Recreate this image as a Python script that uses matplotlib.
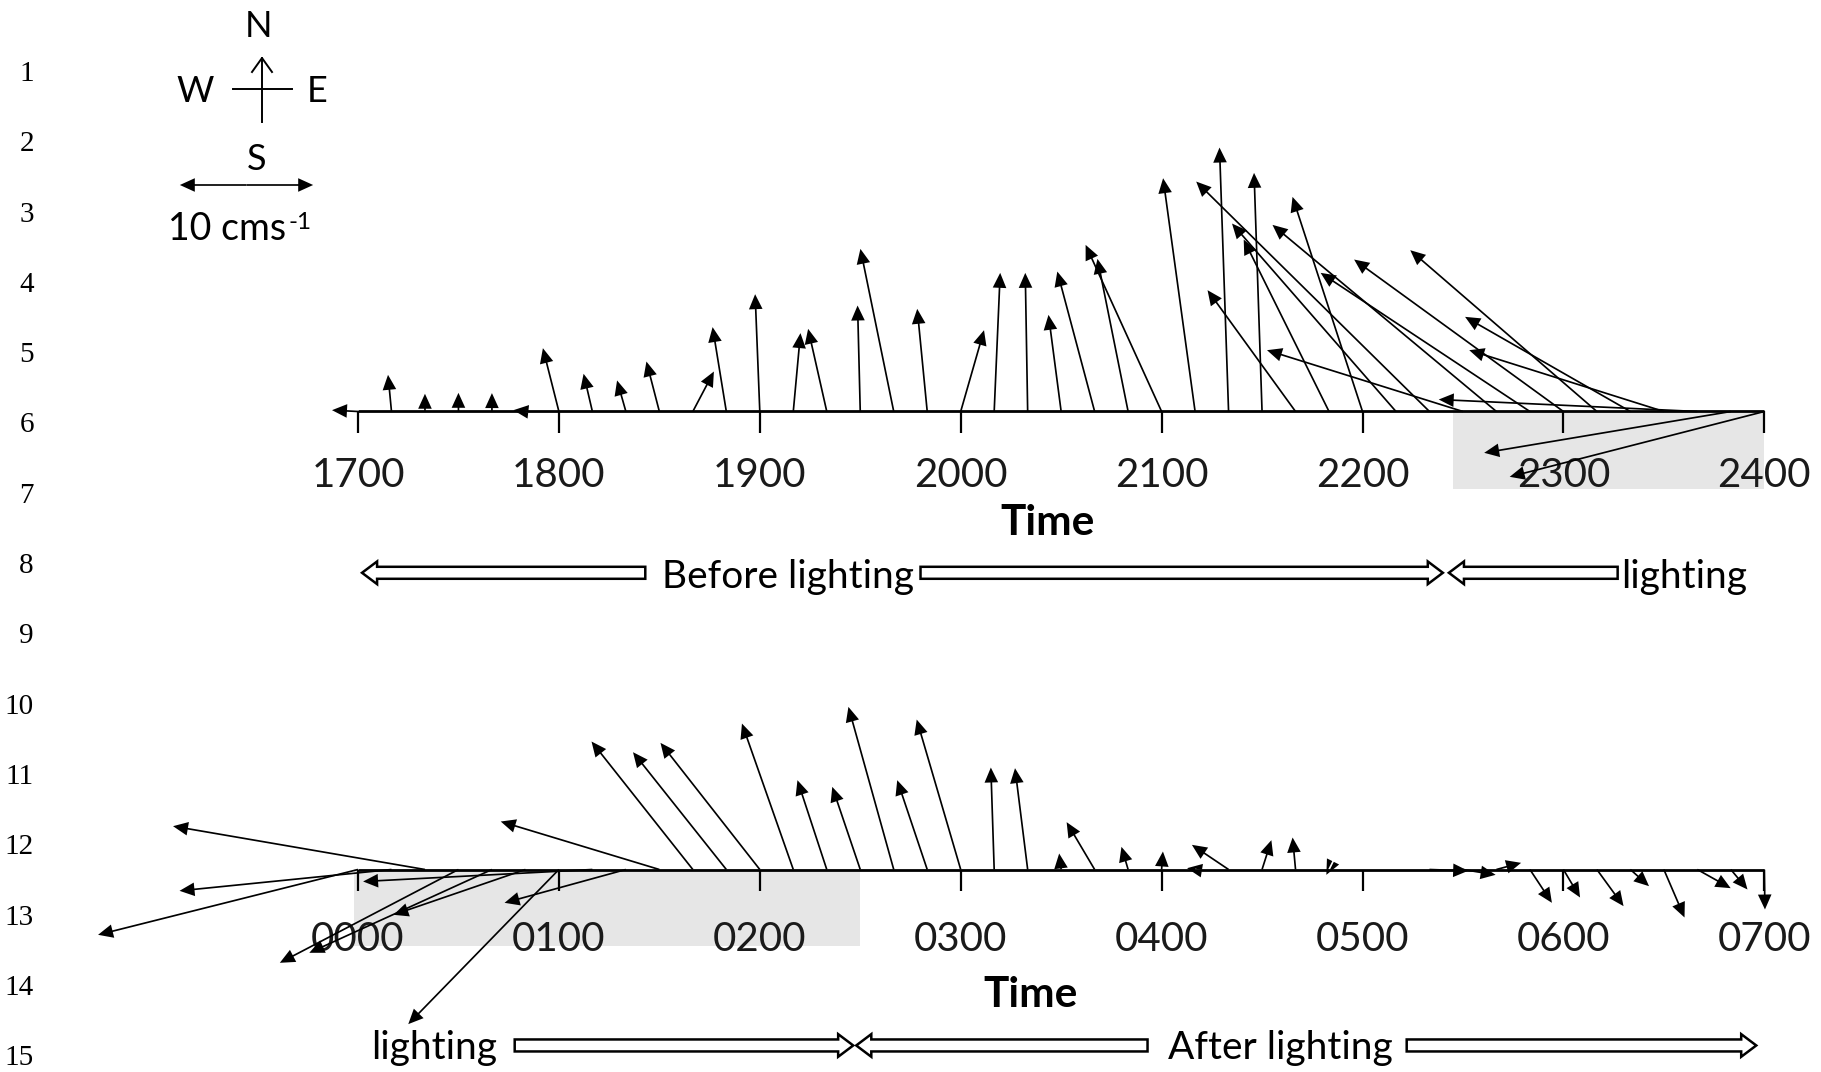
import matplotlib
matplotlib.use('Agg')
import matplotlib.pyplot as plt
import numpy as np
from matplotlib.patches import FancyArrow, Rectangle

# vetores de corrente a cada 10 min: hora (hhmm), u = leste, v = norte (cm/s)
top_hhmm = [1700, 1710, 1720, 1730, 1740, 1750,
            1800, 1810, 1820, 1830, 1840, 1850,
            1900, 1910, 1920, 1930, 1940, 1950,
            2000, 2010, 2020, 2030, 2040, 2050,
            2100, 2110, 2120, 2130, 2140, 2150,
            2200, 2210, 2220, 2230, 2240, 2250,
            2300, 2310, 2320, 2330, 2340, 2350, 2400]
top_u = [-1.95, -0.26, 0.0, 0.0, 0.0, -0.9,
         -1.2, -0.66, -0.66, -0.97, 1.58, -1.03,
         -0.35, 0.54, -1.4, -0.2, -2.5, -0.75,
         1.75, 0.45, -0.18, -0.95, -2.8, -2.3,
         -5.7, -2.4, -0.68, -0.6, -6.6, -6.4,
         -5.25, -12.3, -17.5, -14.7, -16.8, -15.7,
         -15.7, -14.0, -12.4, -14.6, -19.4, -18.5, -19.1]
top_v = [0.1, 2.75, 1.33, 1.4, 1.38, 0.1,
         4.75, 2.83, 2.33, 3.75, 3.0, 6.33,
         8.8, 5.88, 6.2, 7.95, 12.2, 7.7,
         6.1, 10.4, 10.4, 7.25, 10.5, 11.45,
         12.5, 17.5, 19.8, 17.9, 9.1, 12.9,
         16.1, 14.1, 17.25, 4.6, 14.0, 10.4,
         11.4, 12.1, 7.1, 4.6, 0.9, -3.1, -4.9]

bot_hhmm = [0, 10, 20, 30, 40, 50,
            100, 110, 120, 130, 140, 150,
            200, 210, 220, 230, 240, 250,
            300, 310, 320, 330, 340, 350,
            400, 410, 420, 430, 440, 450,
            500, 510, 520, 530, 540, 550,
            600, 610, 620, 630, 640, 650, 700]
bot_u = [-19.5, -15.9, -18.9, -13.4, -13.7, -9.9,
         -11.3, -17.2, -9.1, -11.9, -7.6, -7.0,
         -7.45, -3.85, -2.2, -2.1, -3.4, -2.25,
         -3.3, -0.25, -0.95, -0.15, -2.1, -0.5,
         0.1, -0.6, -2.75, 0.7, -0.22, -0.2,
         np.nan, np.nan, 2.9, 2.45, 1.85, 1.65,
         1.25, 2.0, 1.4, 1.55, 2.5, 1.25, 0.05]
bot_v = [-4.9, -1.6, 3.25, -7.0, -6.25, -3.4,
         -11.6, -0.9, -2.5, 3.6, 9.6, 8.8,
         9.5, 10.95, 6.7, 6.2, 12.2, 6.7,
         11.25, 7.65, 7.6, 1.2, 3.55, 1.7,
         1.35, 0.1, 1.85, 2.2, 2.4, -0.4,
         np.nan, np.nan, -0.1, -0.4, 0.5, -2.5,
         -2.1, -2.75, -1.25, -3.6, -1.4, -1.5, -3.0]

top_ticks = [1700, 1800, 1900, 2000, 2100, 2200, 2300, 2400]
bot_ticks = [0, 100, 200, 300, 400, 500, 600, 700]
top_labels = ['1700', '1800', '1900', '2000', '2100', '2200', '2300', '2400']
bot_labels = ['0000', '0100', '0200', '0300', '0400', '0500', '0600', '0700']

luz_top = (2227, 2400)   # periodo com luz (sombreado)
luz_bot = (0, 230)
escala_cms = 10
linhas = list(range(1, 16))


def horas(hhmm):
    hhmm = np.asarray(hhmm)
    return hhmm // 100 + (hhmm % 100) / 60.0


W, H, DPI = 1821, 1072, 100
PX_H = 200.9      # pixels por hora
PX_V = 13.33      # pixels por cm/s
X0 = 358          # pixel da primeira hora

plt.rcParams['font.family'] = 'Lato'
fig = plt.figure(figsize=(W / DPI, H / DPI), dpi=DPI)

qkw = dict(angles='uv', scale_units='inches', scale=DPI / PX_V, units='dots',
           width=1.7, headwidth=8.0, headlength=8.8, headaxislength=8.8,
           minshaft=0.3, minlength=0.1, color='black', zorder=4)


def painel(base_px, h0):
    ax = fig.add_axes([0, 0, 1, 1])
    ax.set_xlim(h0 - X0 / PX_H, h0 + (W - X0) / PX_H)
    ax.set_ylim(-(H - base_px) / PX_V, base_px / PX_V)
    ax.axis('off')
    return ax


def hollow(ax, x0, x1, y):
    ax.add_patch(FancyArrow(x0, y, x1 - x0, 0, width=0.9, head_width=1.7,
                            head_length=0.075, length_includes_head=True,
                            fc='white', ec='black', lw=1.8, zorder=3))


# ---------------- painel superior ----------------
ax1 = painel(411.5, 17)
ht = horas(top_hhmm)
ax1.add_patch(Rectangle((horas(luz_top[0]), -5.8), horas(luz_top[1]) - horas(luz_top[0]), 5.8,
                        fc='#e6e6e6', ec='none', zorder=0))
ax1.plot([17, 24], [0, 0], color='black', lw=2.0, solid_capstyle='butt', zorder=3)
ax1.vlines(horas(top_ticks), -1.65, 0, color='black', lw=1.6, zorder=3)
for h, lab in zip(horas(top_ticks), top_labels):
    ax1.text(h, -5.63, lab, ha='center', va='baseline', fontsize=29, color='#1a1a1a')
ax1.quiver(ht, np.zeros_like(ht), top_u, top_v, **qkw)
ax1.text(20.43, -9.3, 'Time', ha='center', va='baseline', fontsize=30.5, fontweight='bold')
hollow(ax1, 18.43, 17.02, -12.1)
ax1.text(19.14, -13.26, 'Before lighting', ha='center', va='baseline', fontsize=28)
hollow(ax1, 19.80, 22.40, -12.1)
hollow(ax1, 23.27, 22.43, -12.1)
ax1.text(23.60, -13.26, 'lighting', ha='center', va='baseline', fontsize=28)

# ---------------- painel inferior ----------------
ax2 = painel(869.5, 0)
hb = horas(bot_hhmm)
ax2.add_patch(Rectangle((horas(luz_bot[0]) - 0.02, -5.75), horas(luz_bot[1]) - horas(luz_bot[0]) + 0.02, 5.75,
                        fc='#e6e6e6', ec='none', zorder=0))
ax2.plot([0, 7], [0, 0], color='black', lw=2.0, solid_capstyle='butt', zorder=3)
ax2.vlines(horas(bot_ticks), -1.6, 0, color='black', lw=1.6, zorder=3)
for h, lab in zip(horas(bot_ticks), bot_labels):
    ax2.text(h, -6.15, lab, ha='center', va='baseline', fontsize=29, color='#1a1a1a')
ax2.quiver(hb, np.zeros_like(hb), bot_u, bot_v, **qkw)
ax2.text(3.35, -10.3, 'Time', ha='center', va='baseline', fontsize=30.5, fontweight='bold')
ax2.text(0.377, -14.25, 'lighting', ha='center', va='baseline', fontsize=28)
hollow(ax2, 0.78, 2.465, -13.2)
hollow(ax2, 3.93, 2.48, -13.2)
ax2.text(4.59, -14.25, 'After lighting', ha='center', va='baseline', fontsize=28)
hollow(ax2, 5.22, 6.96, -13.2)

# ---------------- numeros de linha, rosa dos ventos, escala ----------------
ax0 = fig.add_axes([0, 0, 1, 1])
ax0.set_xlim(0, W)
ax0.set_ylim(H, 0)
ax0.axis('off')
for k in linhas:
    ax0.text(34, 81 + (k - 1) * 70.3, str(k), ha='right', va='baseline',
             fontsize=21, family='Liberation Serif')

ax0.plot([262, 262], [58, 122], color='black', lw=1.4)
ax0.plot([233, 292], [89, 89], color='black', lw=1.4)
ax0.plot([252, 262, 272], [72, 58, 72], color='black', lw=1.4)
ax0.text(258, 37, 'N', ha='center', va='baseline', fontsize=26)
ax0.text(195, 102, 'W', ha='center', va='baseline', fontsize=26)
ax0.text(317, 102, 'E', ha='center', va='baseline', fontsize=26)
ax0.text(257, 170, 'S', ha='center', va='baseline', fontsize=26)

ax0.quiver([246.5, 246.5], [185, 185], [escala_cms / 2, -escala_cms / 2], [0, 0], **qkw)
ax0.text(168, 240, '10 cms', ha='left', va='baseline', fontsize=27)
ax0.text(289, 229, '-1', ha='left', va='baseline', fontsize=17.5)

plt.savefig('out.png', dpi=DPI)
plt.close()
